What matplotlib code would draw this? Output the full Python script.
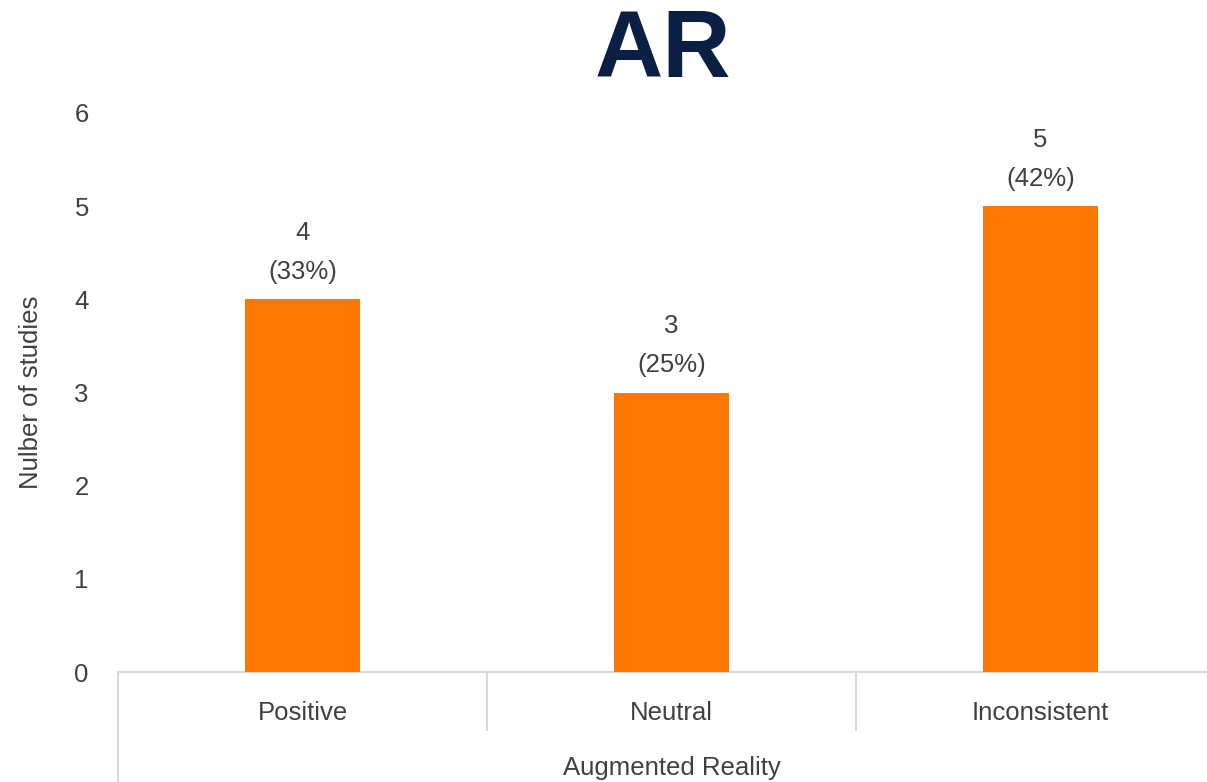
import matplotlib.pyplot as plt

plt.rcParams['font.family'] = ['Liberation Sans', 'DejaVu Sans']

categories = ['Positive', 'Neutral', 'Inconsistent']
counts = [4, 3, 5]
percents = [33, 25, 42]
group_label = 'Augmented Reality'

orange = '#ff7700'
text_grey = '#404040'
line_grey = '#d9d9d9'
fs = 18.5

fig = plt.figure(figsize=(12.07, 7.82), dpi=100)
# axes runs a little past the right edge of the figure
ax = fig.add_axes([118 / 1207, 110 / 782, 1107 / 1207, 559 / 782])

x = range(len(categories))
ax.bar(x, counts, width=0.31, color=orange, zorder=3)

for xi, c, p in zip(x, counts, percents):
    ax.annotate(f'{c}\n({p}%)', (xi, c), xytext=(0, 11), textcoords='offset points',
                ha='center', va='bottom', fontsize=fs, color=text_grey,
                linespacing=1.8)

ax.set_xlim(-0.5, len(categories) - 0.5)
ax.set_ylim(0, 6)
ax.set_yticks(range(0, 7))
ax.tick_params(axis='y', length=0, pad=21, labelsize=fs, labelcolor=text_grey)
ax.set_xticks(list(x))
ax.set_xticklabels(categories)
ax.tick_params(axis='x', length=0, pad=21, labelsize=fs, labelcolor=text_grey)

for s in ['top', 'right', 'left']:
    ax.spines[s].set_visible(False)
ax.spines['bottom'].set_color(line_grey)
ax.spines['bottom'].set_linewidth(1.5)

# category separators below the axis
trans = ax.get_xaxis_transform()
for b in [0.5, 1.5]:
    ax.plot([b, b], [0, -0.104], transform=trans, color=line_grey, lw=1.5, clip_on=False)
ax.plot([-0.5, -0.5], [0, -0.2], transform=trans, color=line_grey, lw=1.5, clip_on=False)

ax.set_xlabel(group_label, fontsize=fs, color=text_grey, labelpad=22)
ax.set_ylabel('Nulber of studies', fontsize=fs, color=text_grey, labelpad=23)

fig.suptitle('AR', x=663 / 1207, y=0.99, fontsize=68, fontweight='bold', color='#0b1f44')

fig.savefig('out.png', dpi=100)
